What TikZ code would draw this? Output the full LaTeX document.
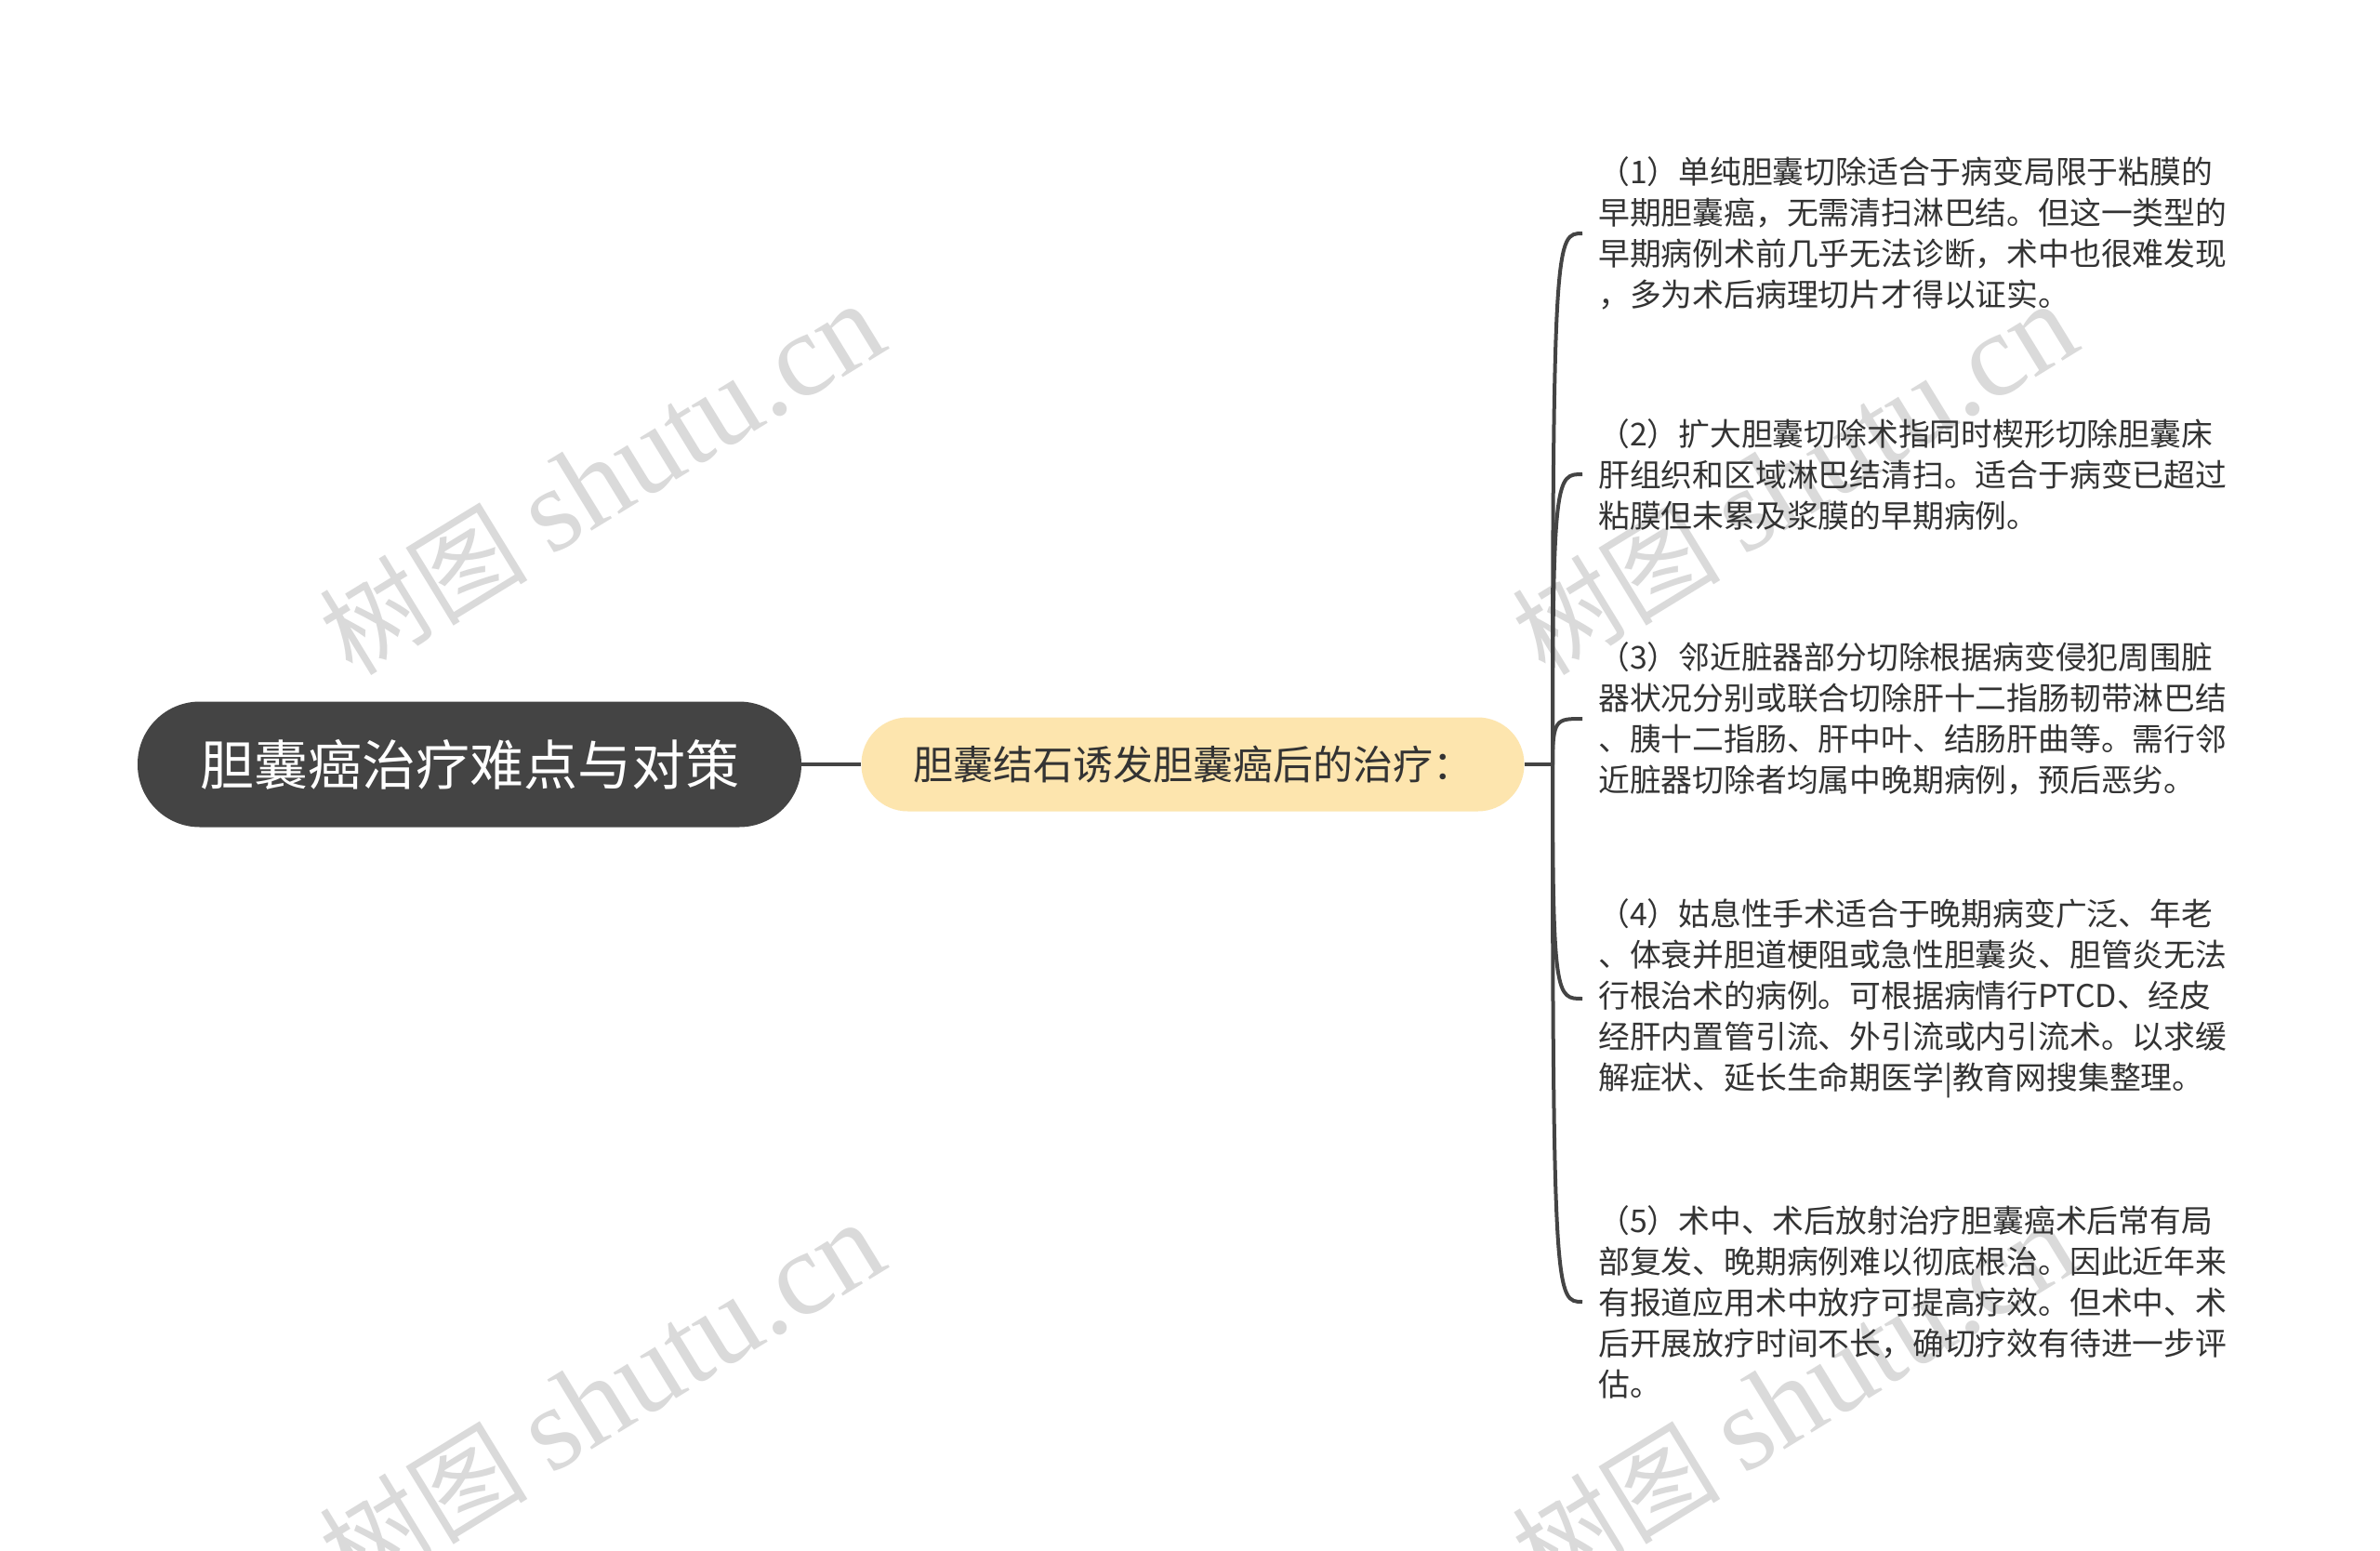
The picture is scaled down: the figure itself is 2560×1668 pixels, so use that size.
\documentclass[tikz,border=0pt]{standalone}
\usepackage{fontspec}
\setmainfont{Noto Sans CJK SC}
\newfontfamily\wmserif{Liberation Serif}
\usetikzlibrary{calc}
\definecolor{rootfill}{HTML}{444444}
\definecolor{subfill}{HTML}{FDE5AE}
\definecolor{linecol}{HTML}{444444}
\definecolor{txtcol}{HTML}{333333}
\definecolor{wmcol}{HTML}{DADADA}
\tikzset{
  rootbox/.style={fill=rootfill, text=white, minimum width=714pt, minimum height=135pt,
    rounded corners=67pt, inner sep=0pt, font=\fontsize{58}{70}\selectfont},
  subbox/.style={fill=subfill, text=txtcol, minimum width=713pt, minimum height=101pt,
    rounded corners=50pt, inner sep=0pt, font=\fontsize{43}{52}\selectfont},
  leaf/.style={anchor=west, align=left, text=txtcol, inner xsep=17pt, inner ysep=0pt,
    font=\fontsize{33.8}{44}\selectfont},
  conn/.style={draw=linecol, line width=4pt},
  wm/.style={text=wmcol, inner sep=0pt, font=\fontsize{112}{120}\selectfont},
}
\newcommand{\wmtext}{树图 {\wmserif\fontsize{128}{130}\selectfont shutu.cn}}
\begin{document}
\begin{tikzpicture}[x=1pt,y=-1pt]
\useasboundingbox (0,0) rectangle (2560,1668);
\fill[white] (0,0) rectangle (2560,1668);
% watermarks
\node[wm, rotate=31.5] (wm1) at (647,515) {\wmtext};
\node[wm, rotate=31.5] (wm2) at (1930,515) {\wmtext};
\node[wm, rotate=31.5] (wm3) at (647,1503) {\wmtext};
\node[wm, rotate=31.5] (wm4) at (1930,1503) {\wmtext};
% nodes
\node[rootbox] (root) at (505,822) {胆囊癌治疗难点与对策};
\node[subbox] (sub) at (1283,822) {胆囊结石诱发胆囊癌后的治疗：};
\coordinate (br) at (1670,822);
\node[leaf] (l1) at (1702,251) {（1）单纯胆囊切除适合于病变局限于粘膜的\\早期胆囊癌，无需清扫淋巴结。但这一类型的\\早期病例术前几乎无法诊断，术中也很难发现\\，多为术后病理切片才得以证实。};
\node[leaf] (l2) at (1702,510) {（2）扩大胆囊切除术指同时楔形切除胆囊床\\肝组织和区域淋巴结清扫。适合于病变已超过\\粘膜但未累及浆膜的早期病例。};
\node[leaf] (l3) at (1702,773) {（3）邻近脏器部分切除根据病变侵犯周围脏\\器状况分别或联合切除肝十二指肠韧带淋巴结\\、胰十二指肠、肝中叶、结肠肝曲等。需行邻\\近脏器切除者均属中晚期病例，预后恶劣。};
\node[leaf] (l4) at (1702,1074) {（4）姑息性手术适合于晚期病变广泛、年老\\、体衰并胆道梗阻或急性胆囊炎、胆管炎无法\\行根治术的病例。可根据病情行PTCD、经皮\\经肝内置管引流、外引流或内引流术。以求缓\\解症状、延长生命期医学|教育网搜集整理。};
\node[leaf] (l5) at (1702,1400) {（5）术中、术后放射治疗胆囊癌术后常有局\\部复发、晚期病例难以彻底根治。因此近年来\\有报道应用术中放疗可提高疗效。但术中、术\\后开展放疗时间不长，确切疗效有待进一步评\\估。};
% connectors
\draw[conn] (root) -- (sub);
\draw[conn] (sub) -- (br);
\foreach \n in {l1,l2,l3,l4,l5}{
  \draw[conn] (br) .. controls (br |- \n.west) and ($(br |- \n.west)+(4,0)$) .. (\n.west);
}
\end{tikzpicture}
\end{document}
